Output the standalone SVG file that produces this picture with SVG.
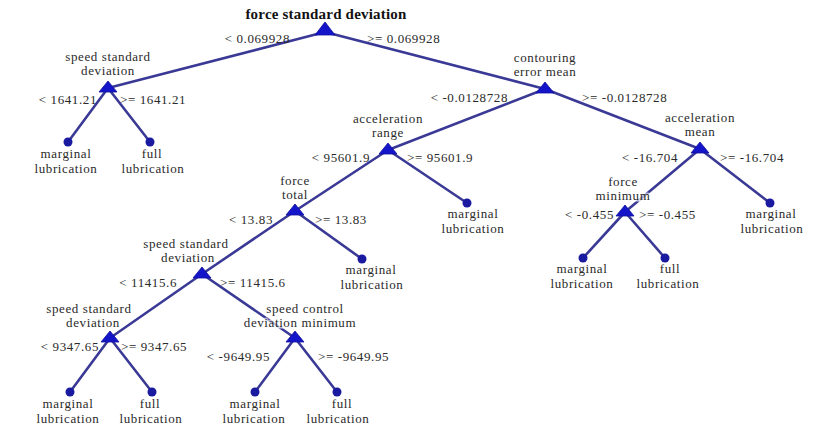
<svg xmlns="http://www.w3.org/2000/svg" width="818" height="428" viewBox="0 0 818 428" font-family="'Liberation Serif','DejaVu Serif',serif">
<style>
text{font-family:"Liberation Serif","DejaVu Serif",serif;font-size:13px;letter-spacing:0.6px;fill:#2a2a2a}
.t{font-weight:bold;font-size:15px;letter-spacing:0.2px;fill:#111}
.m{text-anchor:middle}
.e{text-anchor:end}
.n{stroke:#fff;stroke-width:3px;stroke-opacity:0.6;paint-order:stroke}
.ln{stroke:#3a3a96;stroke-width:2.6;fill:none;stroke-linecap:round}
.tri{fill:#1414c8;stroke:#1010a0;stroke-width:0.8}
.leaf{fill:#1a1aa0}
</style>
<g id="connectors" class="ln">
<path d="M325 32L108 88M325 32L545 89"/>
<path d="M108 88L68 142M108 88L150 142"/>
<path d="M545 89L388 150M545 89L700 149"/>
<path d="M388 150L295 211M388 150L467 203"/>
<path d="M700 149L625 212M700 149L770 203"/>
<path d="M625 212L583 258M625 212L665 258"/>
<path d="M295 211L202 274M295 211L362 259"/>
<path d="M202 274L110 338M202 274L295 338"/>
<path d="M110 338L70 392M110 338L152 392"/>
<path d="M295 338L255 392M295 338L337 392"/>
</g>
<g id="edge-labels">
<text class="e" x="290" y="43">&lt; 0.069928</text>
<text x="367" y="43">&gt;= 0.069928</text>
<text class="e" x="97" y="104">&lt; 1641.21</text>
<text x="120" y="104">&gt;= 1641.21</text>
<text class="e" x="508" y="102">&lt; -0.0128728</text>
<text x="582" y="102">&gt;= -0.0128728</text>
<text class="e" x="370" y="162">&lt; 95601.9</text>
<text x="407" y="162">&gt;= 95601.9</text>
<text class="e" x="678" y="162">&lt; -16.704</text>
<text x="720" y="162">&gt;= -16.704</text>
<text class="e" x="273" y="224">&lt; 13.83</text>
<text x="315" y="224">&gt;= 13.83</text>
<text class="e" x="614" y="219">&lt; -0.455</text>
<text x="639" y="219">&gt;= -0.455</text>
<text class="e" x="177" y="287">&lt; 11415.6</text>
<text x="220" y="287">&gt;= 11415.6</text>
<text class="e" x="99" y="351">&lt; 9347.65</text>
<text x="121" y="351">&gt;= 9347.65</text>
<text class="e" x="270" y="361">&lt; -9649.95</text>
<text x="318" y="361">&gt;= -9649.95</text>
</g>
<g id="n-root"><text class="t m" x="326" y="19">force standard deviation</text><polygon class="tri" points="325,22 335,35 315,35"/></g>
<g id="n-a"><text class="m n" x="108" y="60.5">speed standard</text><text class="m n" x="108" y="75">deviation</text><polygon class="tri" points="108,81 117,92 99,92"/></g>
<g id="n-b"><text class="m n" x="545" y="61.5">contouring</text><text class="m n" x="545" y="76">error mean</text><polygon class="tri" points="545,82 554,93 536,93"/></g>
<g id="n-c"><text class="m n" x="388" y="122.5">acceleration</text><text class="m n" x="388" y="137">range</text><polygon class="tri" points="388,143 397,154 379,154"/></g>
<g id="n-d"><text class="m n" x="700" y="121.5">acceleration</text><text class="m n" x="700" y="136">mean</text><polygon class="tri" points="700,142 709,153 691,153"/></g>
<g id="n-e"><text class="m n" x="295" y="184.5">force</text><text class="m n" x="295" y="199">total</text><polygon class="tri" points="295,204 304,215 286,215"/></g>
<g id="n-f"><text class="m n" x="623" y="185.5">force</text><text class="m n" x="623" y="200">minimum</text><polygon class="tri" points="625,205 634,216 616,216"/></g>
<g id="n-g"><text class="m n" x="186" y="247.5">speed standard</text><text class="m n" x="188" y="262">deviation</text><polygon class="tri" points="202,267 211,278 193,278"/></g>
<g id="n-h"><text class="m n" x="89" y="312.5">speed standard</text><text class="m n" x="93" y="327">deviation</text><polygon class="tri" points="110,331 119,342 101,342"/></g>
<g id="n-i"><text class="m n" x="305" y="312.5">speed control</text><text class="m n" x="300" y="327">deviation minimum</text><polygon class="tri" points="295,331 304,342 286,342"/></g>
<g id="l-a1"><circle class="leaf" cx="68" cy="142" r="4.5"/><text class="m" x="66" y="158">marginal</text><text class="m" x="66" y="172.5">lubrication</text></g>
<g id="l-a2"><circle class="leaf" cx="150" cy="142" r="4.5"/><text class="m" x="152" y="158">full</text><text class="m" x="153" y="172.5">lubrication</text></g>
<g id="l-c2"><circle class="leaf" cx="467" cy="203" r="4.5"/><text class="m" x="473" y="218">marginal</text><text class="m" x="473" y="232.5">lubrication</text></g>
<g id="l-d2"><circle class="leaf" cx="770" cy="203" r="4.5"/><text class="m" x="771" y="218">marginal</text><text class="m" x="772" y="232.5">lubrication</text></g>
<g id="l-f1"><circle class="leaf" cx="583" cy="258" r="4.5"/><text class="m" x="582" y="273">marginal</text><text class="m" x="582" y="287.5">lubrication</text></g>
<g id="l-f2"><circle class="leaf" cx="665" cy="258" r="4.5"/><text class="m" x="670" y="273">full</text><text class="m" x="668" y="287.5">lubrication</text></g>
<g id="l-e2"><circle class="leaf" cx="362" cy="259" r="4.5"/><text class="m" x="371" y="274">marginal</text><text class="m" x="372" y="288.5">lubrication</text></g>
<g id="l-h1"><circle class="leaf" cx="70" cy="392" r="4.5"/><text class="m" x="68" y="408">marginal</text><text class="m" x="68" y="422.5">lubrication</text></g>
<g id="l-h2"><circle class="leaf" cx="152" cy="392" r="4.5"/><text class="m" x="150" y="408">full</text><text class="m" x="151" y="422.5">lubrication</text></g>
<g id="l-i1"><circle class="leaf" cx="255" cy="392" r="4.5"/><text class="m" x="255" y="408">marginal</text><text class="m" x="254" y="422.5">lubrication</text></g>
<g id="l-i2"><circle class="leaf" cx="337" cy="392" r="4.5"/><text class="m" x="342" y="408">full</text><text class="m" x="338" y="422.5">lubrication</text></g>
</svg>
